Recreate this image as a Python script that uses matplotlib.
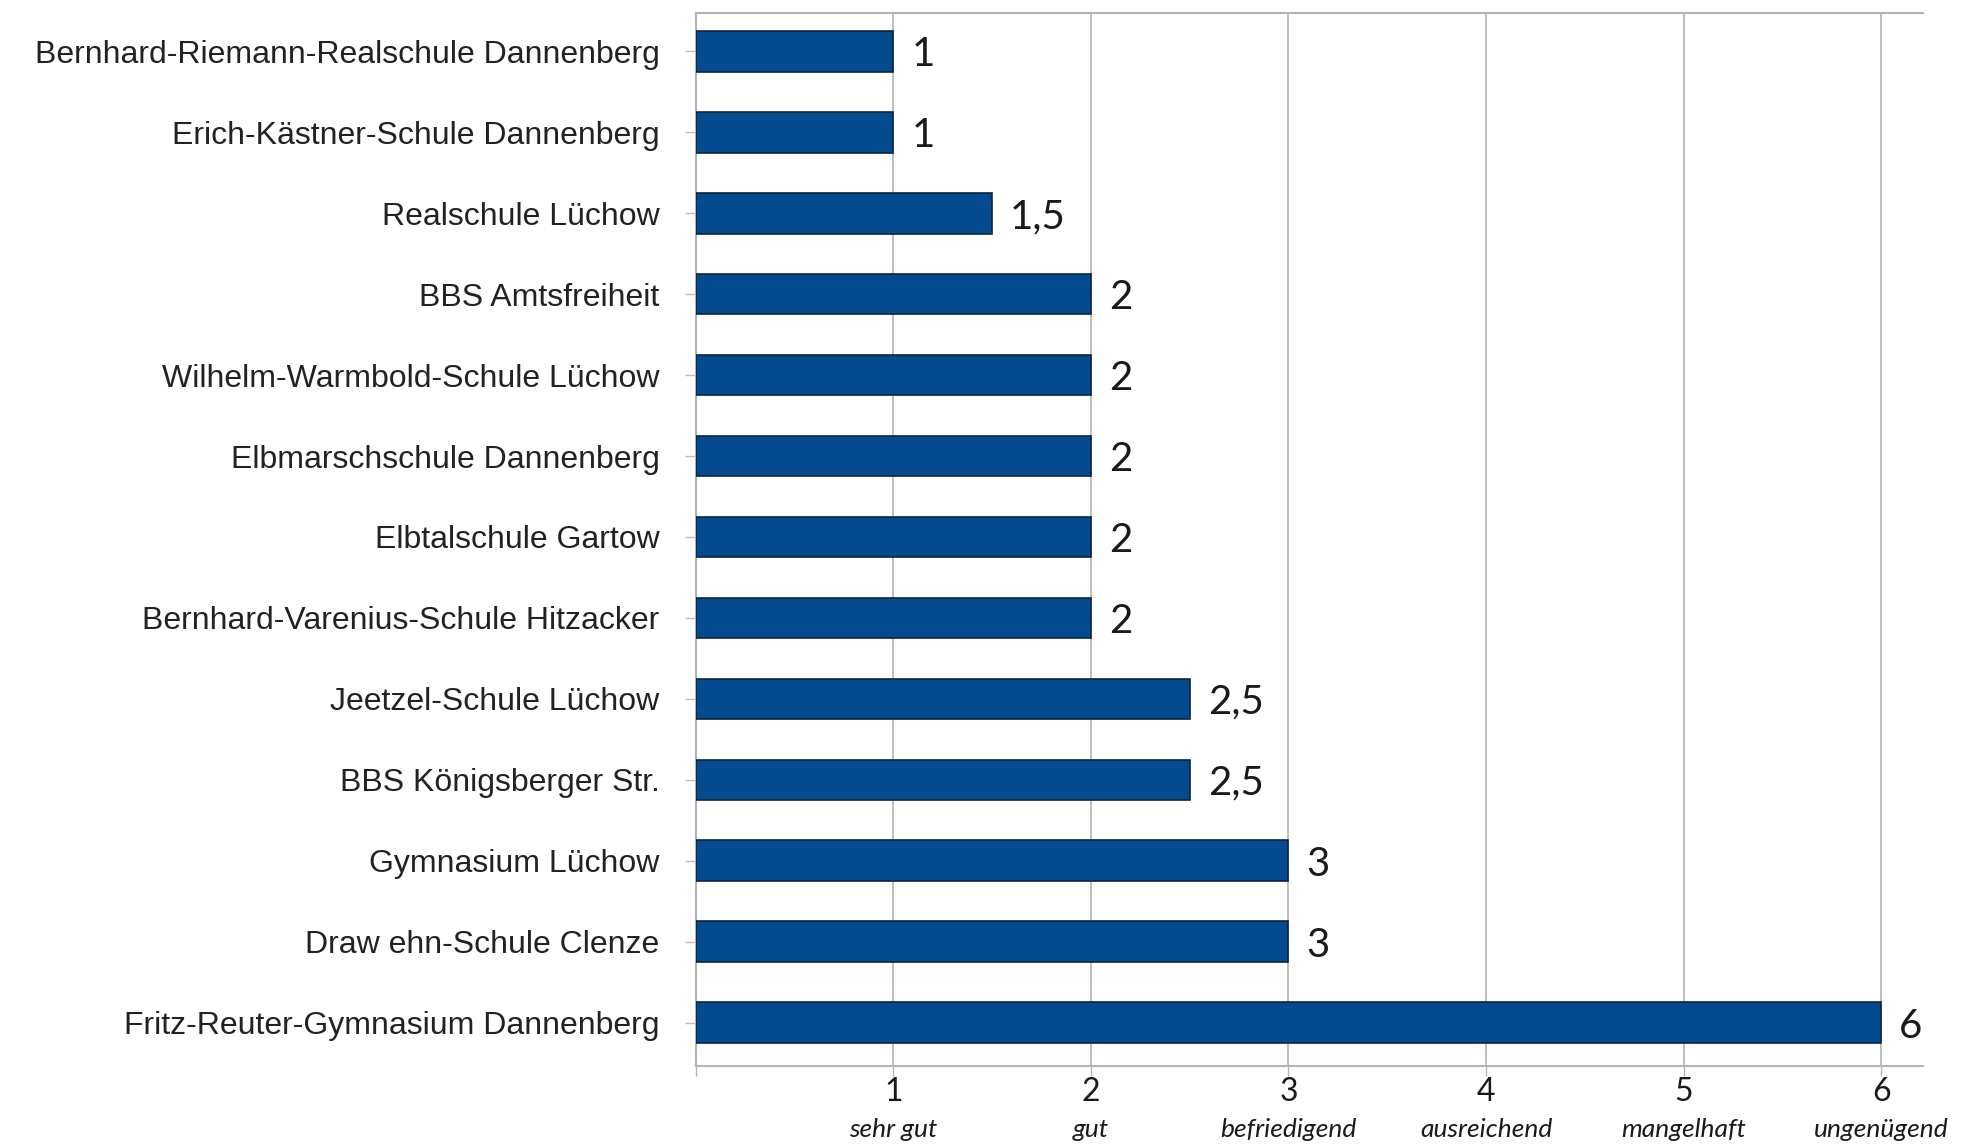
import numpy as np
import matplotlib.pyplot as plt

schools = ['Bernhard-Riemann-Realschule Dannenberg',
           'Erich-Kästner-Schule Dannenberg',
           'Realschule Lüchow',
           'BBS Amtsfreiheit',
           'Wilhelm-Warmbold-Schule Lüchow',
           'Elbmarschschule Dannenberg',
           'Elbtalschule Gartow',
           'Bernhard-Varenius-Schule Hitzacker',
           'Jeetzel-Schule Lüchow',
           'BBS Königsberger Str.',
           'Gymnasium Lüchow',
           'Draw ehn-Schule Clenze',
           'Fritz-Reuter-Gymnasium Dannenberg']
grades = [1, 1, 1.5, 2, 2, 2, 2, 2, 2.5, 2.5, 3, 3, 6]
tick_vals = [1, 2, 3, 4, 5, 6]
tick_words = ['sehr gut', 'gut', 'befriedigend', 'ausreichend', 'mangelhaft', 'ungenügend']

fig = plt.figure(figsize=(19.71, 11.44), dpi=100)
ax = fig.add_axes([0.353, 0.068, 0.6225, 0.921])

y = np.arange(len(schools))
bars = ax.barh(y, grades, height=0.5, color='#034a8e', edgecolor='#0d2440', linewidth=1.2, zorder=3)

for b, g in zip(bars, grades):
    txt = ('%g' % g).replace('.', ',')
    ax.annotate(txt, (b.get_width(), b.get_y() + b.get_height() / 2),
                xytext=(13, 0), textcoords='offset points', va='center_baseline', ha='left',
                fontsize=29, family='Lato', color='#1a1a1a')

ax.set_xlim(0, 6.21)
ax.set_ylim(12.54, -0.48)

ax.set_yticks(y)
ax.set_yticklabels(schools, family='Liberation Sans', fontsize=23, color='#222222')
ax.tick_params(axis='y', length=8, width=1, color='#e0b0b0', pad=18)

ax.set_xticks([0] + tick_vals)
ax.set_xticklabels([''] + [str(v) for v in tick_vals], family='Lato', fontsize=23, color='#1a1a1a')
ax.tick_params(axis='x', length=7, width=1, color='#b3b3b3', pad=1)
ax.xaxis.grid(True, color='#b3b3b3', linewidth=1.2, zorder=0)

for v, w in zip(tick_vals, tick_words):
    ax.annotate(w, (v, 0), xycoords=('data', 'axes fraction'), xytext=(0, -37),
                textcoords='offset points', ha='center', va='top',
                fontsize=19, family='Lato', style='italic', color='#1a1a1a')

for s in ['top', 'bottom', 'left']:
    ax.spines[s].set_color('#b3b3b3')
    ax.spines[s].set_linewidth(1.5)
ax.spines['right'].set_visible(False)

fig.savefig('out.png', dpi=100)
